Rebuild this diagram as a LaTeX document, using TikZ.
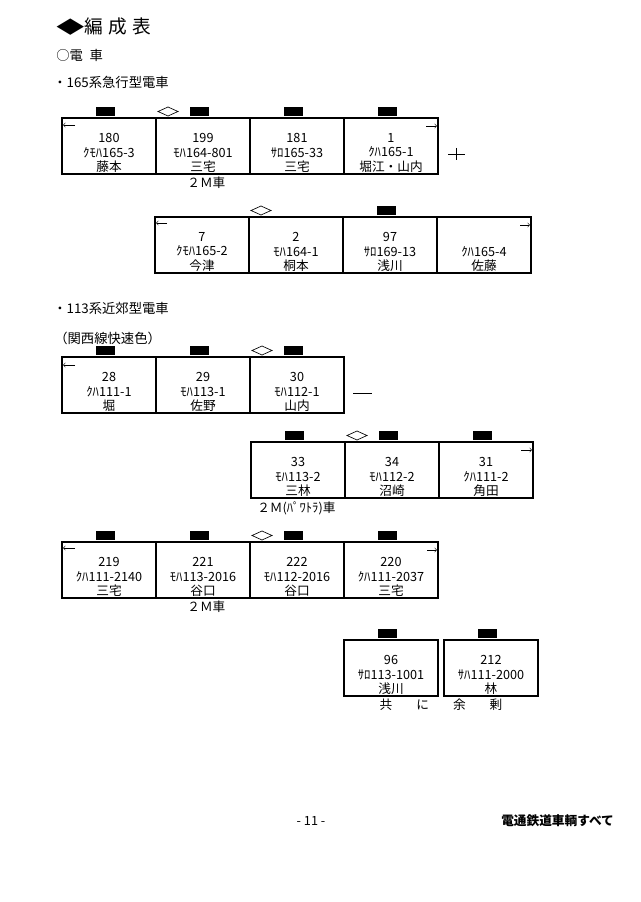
\documentclass[tikz,border=0pt]{standalone}
\usepackage{fontspec}
\setmainfont{Noto Sans CJK JP}
\usepackage{tikz}
\usetikzlibrary{calc,arrows,positioning}

\tikzset{
  car/.style={draw, rectangle, line width=0.8pt, minimum width=70.5pt, minimum height=42pt, inner sep=0pt, outer sep=0pt},
  cartext/.style={align=center, inner sep=0pt, font=\fontsize{9.5}{11}\selectfont},
  head/.style={anchor=west, inner sep=0pt, font=\fontsize{10}{12}\selectfont},
  note/.style={inner sep=0pt, font=\fontsize{9.5}{11}\selectfont},
  dir/.style={->, >=to, line width=0.4pt},
}
\newcommand\carpan[1]{\fill ($(#1.north)+(-13.5,-11)$) rectangle ++(19,9);}
\newcommand\cardia[1]{\draw[line width=0.5pt] ($(#1.north west)+(2,-6.5)$) -- ++(10,-4.5) -- ++(10,4.5) -- ++(-10,4.5) -- cycle;}

\begin{document}
\begin{tikzpicture}[x=0.75pt,y=-0.75pt]
\useasboundingbox[fill=white] (0,0) rectangle (640,902);

% headings
\node[head, font=\fontsize{14}{16}\selectfont] (title) at (56,27) {\scalebox{1.5}[0.9]{◆}編\hspace{4pt}成\hspace{4pt}表};
\node[head] (sub) at (56,55) {○電\hspace{5pt}車};
\node[head] (ser1) at (53,82) {・165系急行型電車};

% 165 kei, first set
\foreach \nr/\ty/\nm/\pa/\di [count=\i] in {180/ｸﾓﾊ165-3/藤本/1/0, 199/ﾓﾊ164-801/三宅/1/1, 181/ｻﾛ165-33/三宅/1/0, 1/ｸﾊ165-1/堀江・山内/1/0}
{
  \node[car] (a\i) at (15+94*\i, 146) {};
  \node[cartext] (ta\i) at ([yshift=-5.25pt]a\i.center) {\nr\\\ty\\\nm};
  \ifnum\pa=1 \carpan{a\i}\fi
  \ifnum\di=1 \cardia{a\i}\fi
}
\draw[dir] ($(a1.north west)+(13,7)$) -- ++(-12,0);
\draw[dir] ($(a4.north east)+(-12,8)$) -- ++(11,0);
\node[note, below=2pt of a2, xshift=2.5pt] (m2a) {２Ｍ車};
\draw[line width=0.5pt] ($(a4.east)+(10,8)$) -- ++(17,0);
\draw[line width=0.5pt] ($(a4.east)+(18.5,2)$) -- ++(0,12);

% 165 kei, second set
\foreach \nr/\ty/\nm/\pa/\di [count=\i] in {7/ｸﾓﾊ165-2/今津/0/0, 2/ﾓﾊ164-1/桐本/0/1, 97/ｻﾛ169-13/浅川/1/0, \phantom{0}/ｸﾊ165-4/佐藤/0/0}
{
  \node[car] (b\i) at (108+94*\i, 245) {};
  \node[cartext] (tb\i) at ([yshift=-5.25pt]b\i.center) {\nr\\\ty\\\nm};
  \ifnum\pa=1 \carpan{b\i}\fi
  \ifnum\di=1 \cardia{b\i}\fi
}
\draw[dir] ($(b1.north west)+(12,6)$) -- ++(-11,0);
\draw[dir] ($(b4.north east)+(-11,8)$) -- ++(10,0);

% 113 kei
\node[head] (ser2) at (53,308) {・113系近郊型電車};
\node[head] (col) at (54,338) {（関西線快速色）};

\foreach \nr/\ty/\nm/\pa/\di [count=\i] in {28/ｸﾊ111-1/堀/1/0, 29/ﾓﾊ113-1/佐野/1/0, 30/ﾓﾊ112-1/山内/1/1}
{
  \node[car] (c\i) at (15+94*\i, 385) {};
  \node[cartext] (tc\i) at ([yshift=-5.25pt]c\i.center) {\nr\\\ty\\\nm};
  \ifnum\pa=1 \carpan{c\i}\fi
  \ifnum\di=1 \cardia{c\i}\fi
}
\draw[dir] ($(c1.north west)+(13,8)$) -- ++(-12,0);
\draw[line width=0.5pt] ($(c3.east)+(9,8)$) -- ++(19,0);

\foreach \nr/\ty/\nm/\pa/\di [count=\i] in {33/ﾓﾊ113-2/三林/1/0, 34/ﾓﾊ112-2/沼崎/1/1, 31/ｸﾊ111-2/角田/1/0}
{
  \node[car] (d\i) at (204+94*\i, 470) {};
  \node[cartext] (td\i) at ([yshift=-5.25pt]d\i.center) {\nr\\\ty\\\nm};
  \ifnum\pa=1 \carpan{d\i}\fi
  \ifnum\di=1 \cardia{d\i}\fi
}
\draw[dir] ($(d3.north east)+(-12,8)$) -- ++(11,0);
\node[note, anchor=west] (m2d) at ($(d1.south west)+(6,10)$) {２Ｍ(ﾊﾟﾜﾄﾗ)車};

\foreach \nr/\ty/\nm/\pa/\di [count=\i] in {219/ｸﾊ111-2140/三宅/1/0, 221/ﾓﾊ113-2016/谷口/1/0, 222/ﾓﾊ112-2016/谷口/1/1, 220/ｸﾊ111-2037/三宅/1/0}
{
  \node[car] (e\i) at (15+94*\i, 570) {};
  \node[cartext] (te\i) at ([yshift=-5.25pt]e\i.center) {\nr\\\ty\\\nm};
  \ifnum\pa=1 \carpan{e\i}\fi
  \ifnum\di=1 \cardia{e\i}\fi
}
\draw[dir] ($(e1.north west)+(13,6)$) -- ++(-12,0);
\draw[dir] ($(e4.north east)+(-11,8)$) -- ++(10,0);
\node[note, below=2pt of e2, xshift=2.5pt] (m2e) {２Ｍ車};

% spare cars
\foreach \nr/\ty/\nm/\pa/\di [count=\i] in {96/ｻﾛ113-1001/浅川/1/0, 212/ｻﾊ111-2000/林/1/0}
{
  \node[car] (f\i) at (291+100*\i, 668) {};
  \node[cartext] (tf\i) at ([yshift=-5.25pt]f\i.center) {\nr\\\ty\\\nm};
  \ifnum\pa=1 \carpan{f\i}\fi
}
\node[note] (spare) at ($(f1.south east)!0.5!(f2.south west)+(0,9)$) {共\hspace{18pt}に\hspace{18pt}余\hspace{18pt}剰};

% footer
\node[note] (page) at (311,821) {- 11 -};
\node[note, anchor=west, font=\fontsize{9.5}{11}\selectfont\bfseries] (club) at (501,821) {電通鉄道車輌すべて};
\end{tikzpicture}
\end{document}
